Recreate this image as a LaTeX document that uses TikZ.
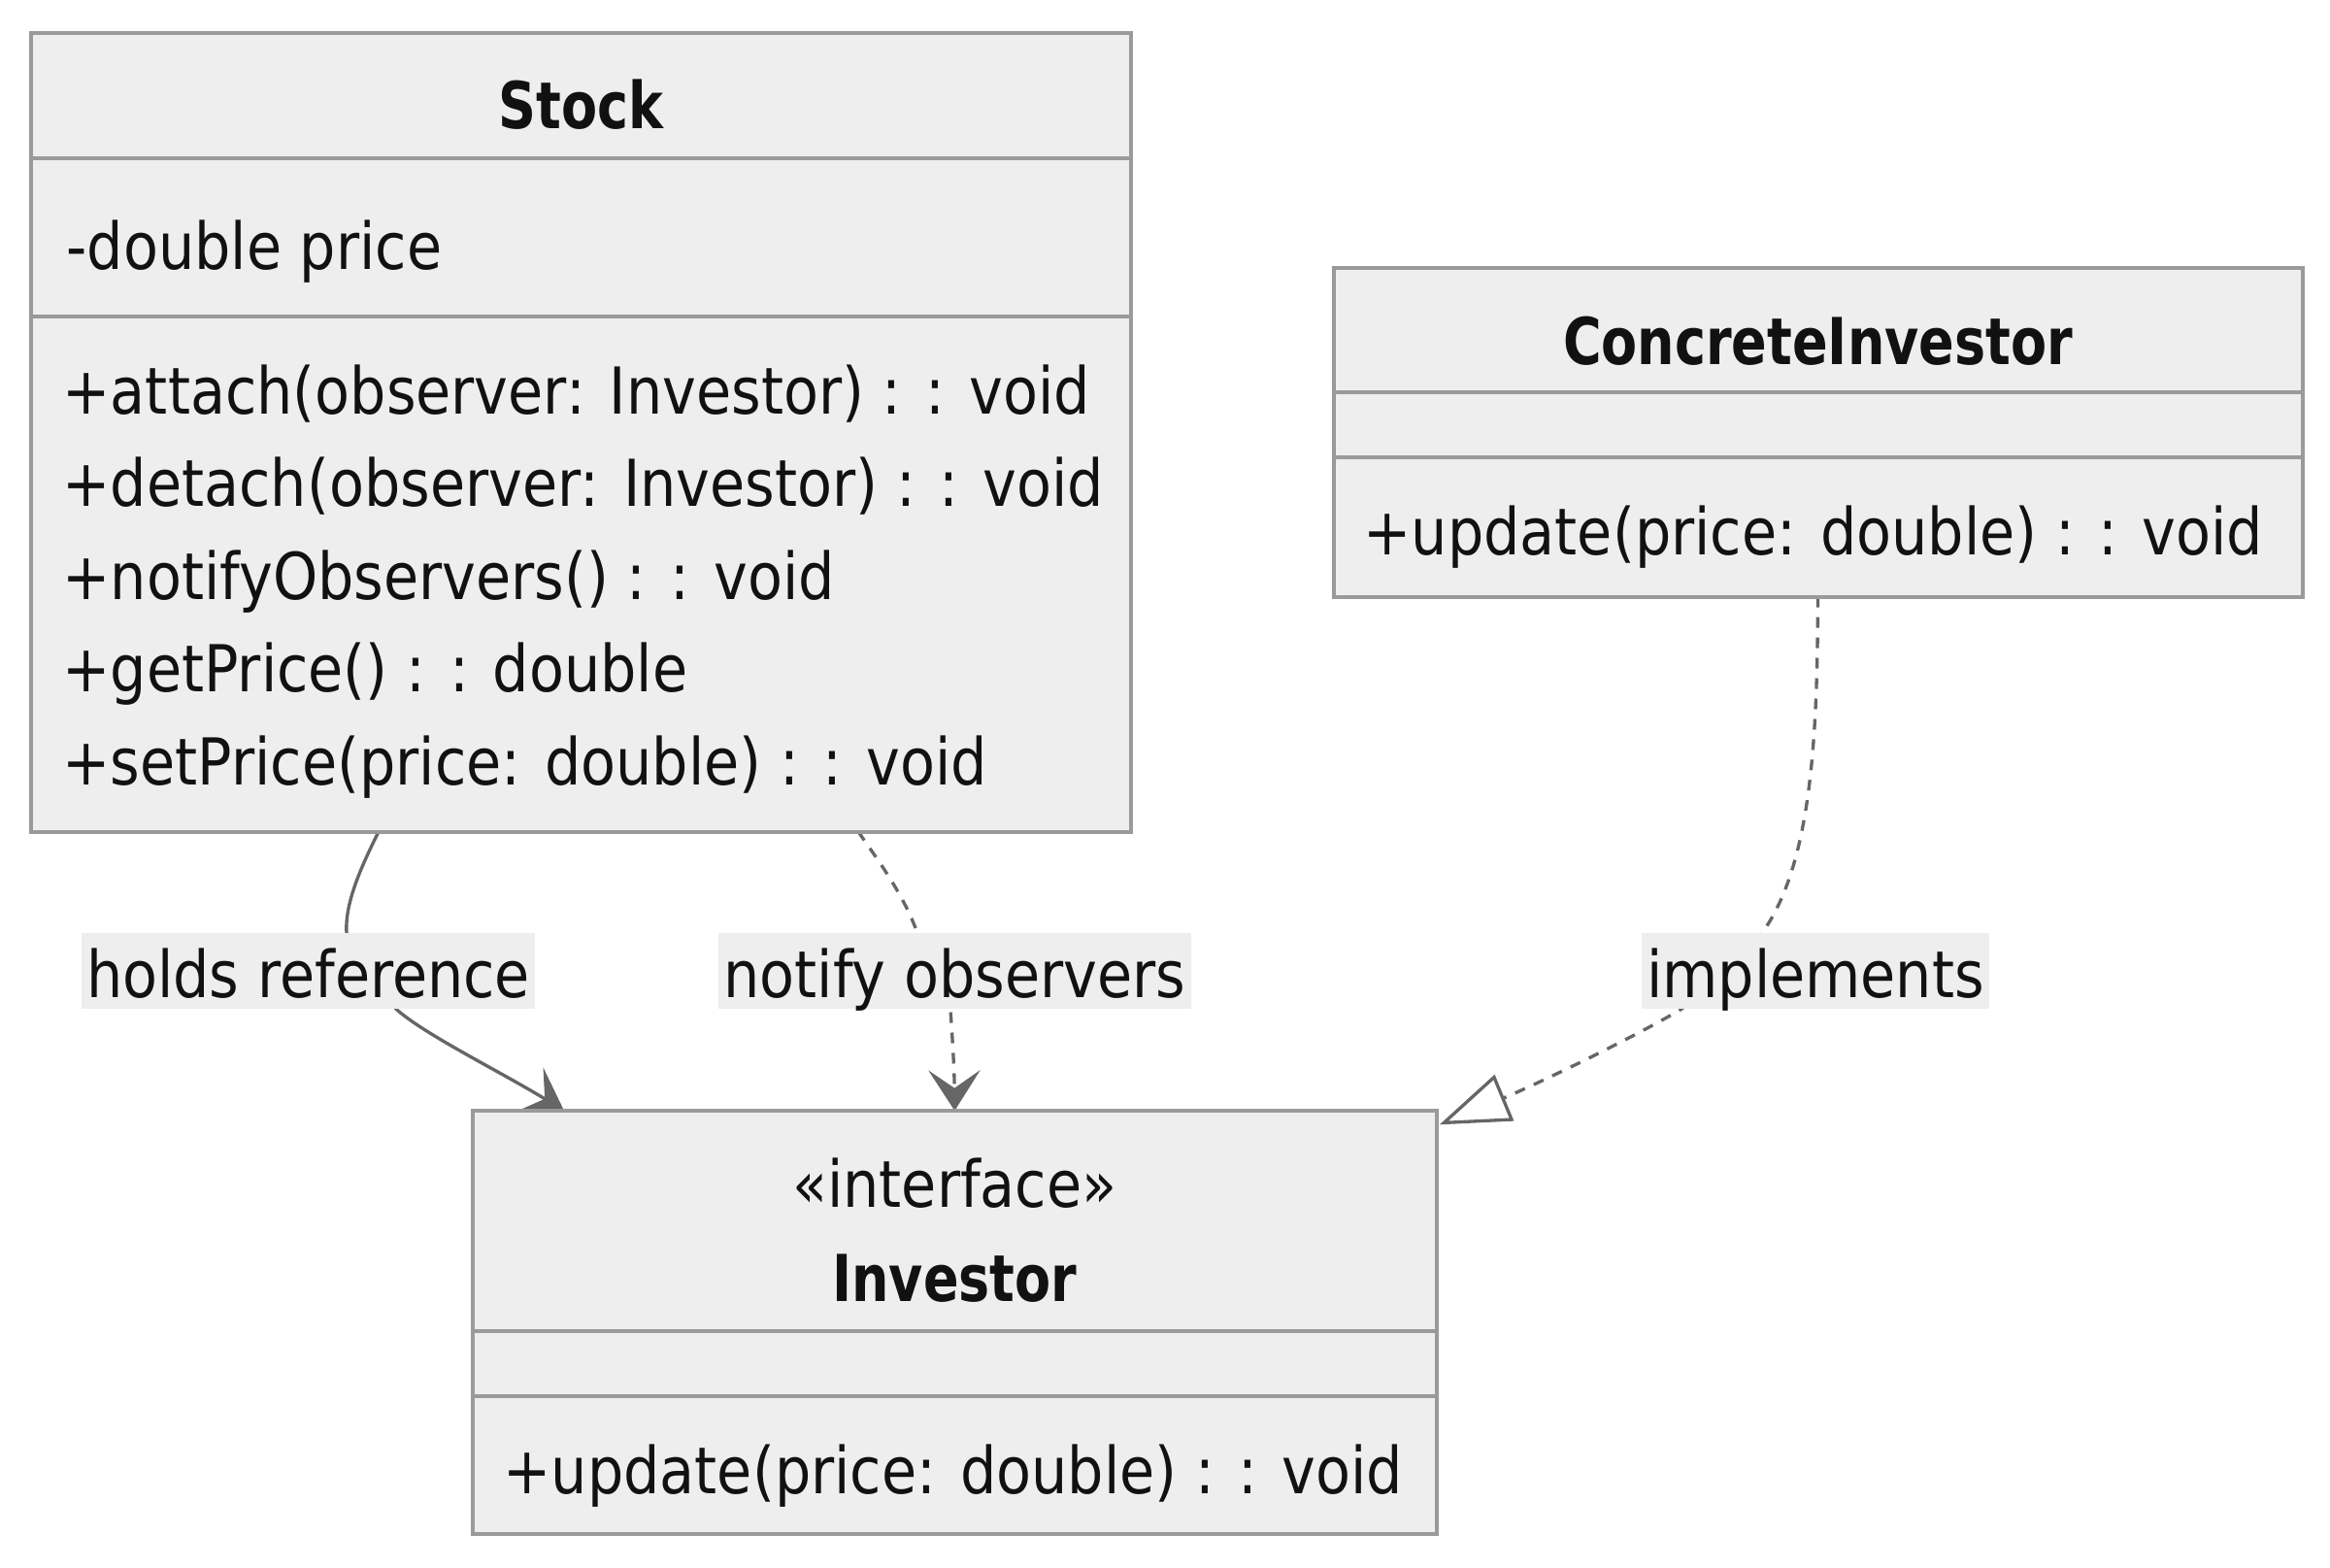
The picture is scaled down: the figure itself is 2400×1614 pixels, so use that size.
\documentclass[tikz,border=0pt]{standalone}
\usepackage{fontspec}
\setmainfont[FakeStretch=0.882,BoldFeatures={FakeStretch=0.81}]{DejaVu Sans}
\usetikzlibrary{arrows.meta,calc}
\definecolor{boxfill}{HTML}{EEEEEE}
\definecolor{boxline}{HTML}{9A9A9A}
\definecolor{edgeline}{HTML}{666666}
\definecolor{ink}{HTML}{111111}
\pgfdeclarelayer{edges}
\pgfsetlayers{edges,main}

\begin{document}
\begin{tikzpicture}[x=0.3pt,y=0.3pt,yscale=-1,
	classbox/.style={draw=boxline,fill=boxfill,line width=1.2pt,inner sep=0pt,outer sep=0pt},
	divider/.style={draw=boxline,line width=1.2pt},
	member/.style={font=\fontsize{20pt}{24pt}\selectfont,text=ink,inner sep=0pt},
	classname/.style={member,font=\fontsize{20pt}{24pt}\selectfont\bfseries},
	edgelabel/.style={member,fill=boxfill,inner xsep=1.6pt,inner ysep=0pt,outer sep=0pt,text height=19.9pt,text depth=3.6pt},
	assoc/.style={draw=edgeline,line width=1pt,-{Stealth[length=12.5pt,width=16pt,inset=5.5pt]}},
	dep/.style={assoc,dash pattern=on 3.3pt off 3pt},
	real/.style={draw=edgeline,line width=1pt,dash pattern=on 3.3pt off 3pt,-{Triangle[open,length=21.7pt,width=15.3pt]}}]
	\useasboundingbox (0,0) rectangle (2400,1614);

	% class Stock
	\node[classbox,minimum width=339.9pt,minimum height=246.84pt] (stock) at (598.5,445.1) {};
	\draw[divider] ($(stock.north west)+(0,128.9)$) -- ($(stock.north east)+(0,128.9)$);
	\draw[divider] ($(stock.north west)+(0,292.3)$) -- ($(stock.north east)+(0,292.3)$);
	\node[classname,anchor=base] (stock-name) at (598.5,132.5) {Stock};
	\node[member,anchor=base west] (stock-price) at (68,277.8) {-double price};
	\node[member,anchor=base west] (stock-attach) at (64,426) {+attach(observer: Investor) : : void};
	\node[member,anchor=base west] (stock-detach) at (64,521.5) {+detach(observer: Investor) : : void};
	\node[member,anchor=base west] (stock-notify) at (64,617) {+notifyObservers() : : void};
	\node[member,anchor=base west] (stock-get) at (64,712.5) {+getPrice() : : double};
	\node[member,anchor=base west] (stock-set) at (64,808) {+setPrice(price: double) : : void};

	% class ConcreteInvestor
	\node[classbox,minimum width=299.4pt,minimum height=101.7pt] (concrete) at (1872.5,445) {};
	\draw[divider] ($(concrete.north west)+(0,128.5)$) -- ($(concrete.north east)+(0,128.5)$);
	\draw[divider] ($(concrete.north west)+(0,195.5)$) -- ($(concrete.north east)+(0,195.5)$);
	\node[classname,anchor=base] (concrete-name) at (1872.5,375.3) {ConcreteInvestor};
	\node[member,anchor=base west] (concrete-update) at (1404,571.5) {+update(price: double) : : void};

	% interface Investor
	\node[classbox,minimum width=298pt,minimum height=130.8pt] (inv) at (983.35,1362) {};
	\draw[divider] ($(inv.north west)+(0,226.7)$) -- ($(inv.north east)+(0,226.7)$);
	\draw[divider] ($(inv.north west)+(0,294.3)$) -- ($(inv.north east)+(0,294.3)$);
	\node[member,anchor=base] (inv-stereo) at (983.35,1243.3) {«interface»};
	\node[classname,anchor=base] (inv-name) at (983.35,1340.7) {Investor};
	\node[member,anchor=base west] (inv-update) at (518,1538.3) {+update(price: double) : : void};

	% edge labels
	\node[edgelabel] (hold) at (317.5,1000.15) {holds reference};
	\node[edgelabel] (note) at (983.3,1000.15) {notify observers};
	\node[edgelabel] (impl) at (1870,1000.15) {implements};

	% relations
	\begin{pgfonlayer}{edges}
	\draw[assoc] ($(stock.south)+(-208.5,0)$) .. controls (372,893) and (355,930) .. ($(hold.north)+(39.5,0)$)
		-- ($(hold.south)+(90.5,0)$) .. controls (438,1066) and (516,1104) .. ($(inv.north)+(-402.3,0)$);
	\draw[dep] ($(stock.south)+(285.5,0)$) .. controls (905,887) and (930,920) .. ($(note.north)+(-38.3,0)$)
		-- ($(note.south)+(-4.3,0)$) .. controls (981,1070) and (983,1100) .. (inv.north);
	\draw[real] (concrete.south) .. controls (1872,760) and (1866,890) .. ($(impl.north)+(-55,0)$)
		-- ($(impl.south)+(-138,0)$) .. controls (1680,1070) and (1580,1118) .. ($(inv.north east)+(2.7,14.3)$);
	\end{pgfonlayer}
\end{tikzpicture}
\end{document}
